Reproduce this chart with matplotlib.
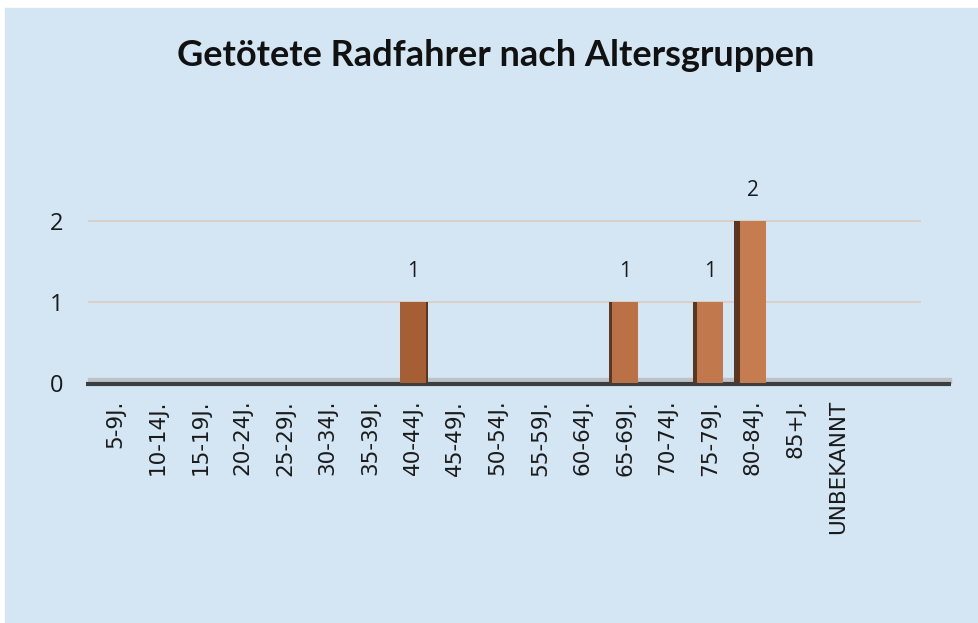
import numpy as np
import matplotlib
matplotlib.use("Agg")
import matplotlib.pyplot as plt
from matplotlib.patches import Rectangle
from matplotlib.colors import to_rgb

categories = ["5-9J.", "10-14J.", "15-19J.", "20-24J.", "25-29J.", "30-34J.",
              "35-39J.", "40-44J.", "45-49J.", "50-54J.", "55-59J.", "60-64J.",
              "65-69J.", "70-74J.", "75-79J.", "80-84J.", "85+J.", "UNBEKANNT"]
values = [0, 0, 0, 0, 0, 0, 0, 1, 0, 0, 0, 0, 1, 0, 1, 2, 0, 0]
yticks = [0, 1, 2]
title = "Getötete Radfahrer nach Altersgruppen"

W, H = 979, 623
fig = plt.figure(figsize=(W / 100, H / 100), dpi=100)
fig.patch.set_facecolor("white")
fig.add_artist(Rectangle((5 / W, 0), 1 - 5 / W, (H - 8) / H,
                         transform=fig.transFigure, color="#d4e6f3", zorder=0))

ax = fig.add_axes([88 / W, 240 / H, 833 / W, 170 / H])
ax.set_facecolor("none")
xmin, xmax = -0.64, 18.96
ax.set_xlim(xmin, xmax)
ax.set_ylim(0, 2.1)

x = np.arange(len(categories))
w = 0.62
c_dark = np.array(to_rgb("#a65e35"))
c_light = np.array(to_rgb("#c57c4f"))
side = "#5a3722"
for i, v in zip(x, values):
    if v <= 0:
        continue
    t = np.clip((i - 7) / 8, 0, 1)
    front = tuple(c_dark * (1 - t) + c_light * t)
    s = (i - 9) * 0.02
    if s > 0:
        ax.bar(i - w / 2 - s, v, width=s, align="edge", color=side, zorder=3)
    elif s < 0:
        ax.bar(i + w / 2, v, width=-s, align="edge", color=side, zorder=3)
    ax.bar(i, v, width=w, color=front, zorder=4)
    ax.annotate(str(v), (i, v), xytext=(0, 22), textcoords="offset points",
                ha="center", va="center", fontsize=15, family="Open Sans",
                color="#1a1a1a", zorder=5)

# floor
ax.fill_between([xmin, xmax + 0.7], 0, 0.06, color="#bcc2c6", clip_on=False, zorder=2)
ax.plot([xmin - 0.05, xmax + 0.7], [-0.015, -0.015], color="#3b3e41", lw=3,
        clip_on=False, zorder=2, solid_capstyle="butt")

ax.tick_params(axis="both", length=0)
ax.tick_params(axis="x", pad=12)
ax.tick_params(axis="y", pad=18)
ax.set_yticks(yticks)
ax.set_yticklabels([str(t) for t in yticks])
ax.set_xticks(x)
ax.set_xticklabels(categories, rotation=90, va="top", ha="center")
for lab in ax.get_xticklabels():
    lab.set_fontfamily("DejaVu Sans")
    lab.set_fontsize(15.5)
    lab.set_color("#1a1a1a")
for lab in ax.get_yticklabels():
    lab.set_fontfamily("Open Sans")
    lab.set_fontsize(17)
    lab.set_color("#1a1a1a")
ax.yaxis.grid(True, color="#d9d1c9", lw=1.5, zorder=1)
for sp in ax.spines.values():
    sp.set_visible(False)

fig.text(496 / W, 1 - 55 / H, title, ha="center", va="center", fontsize=26,
         fontweight="bold", family="Lato", color="#111111")

fig.savefig("out.png", dpi=100, facecolor=fig.get_facecolor())
